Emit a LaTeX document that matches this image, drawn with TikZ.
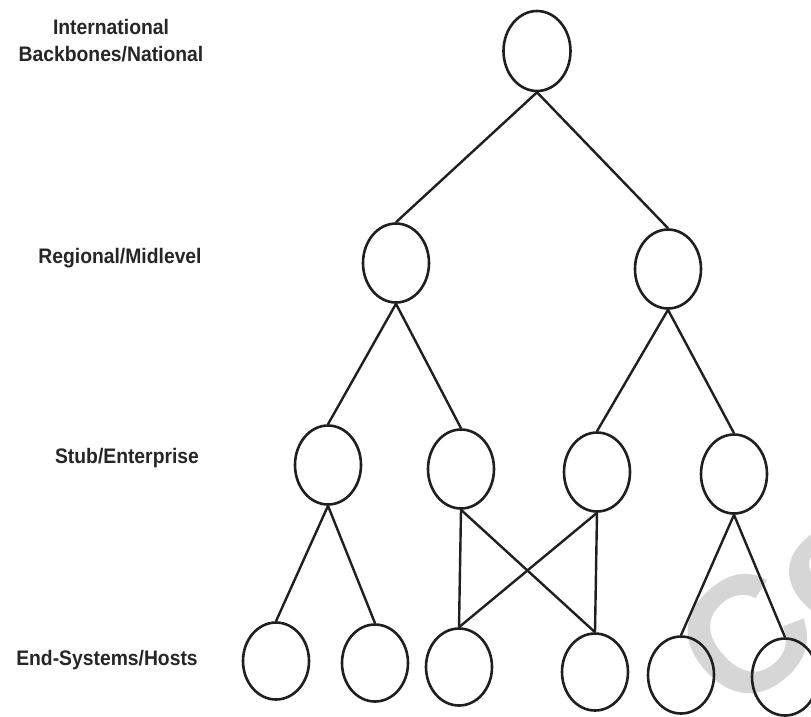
\documentclass[tikz,border=0pt]{standalone}
\usepackage{fontspec}
\setmainfont{Liberation Sans}
\newfontfamily\tierfont{Liberation Sans Bold}[FakeStretch=0.92]
\newfontfamily\stampfont{Liberation Sans Bold}
\usetikzlibrary{shapes.geometric}

\tikzset{
  router/.style={ellipse, draw=black!88, line width=2.6pt, inner sep=0pt,
                 minimum width=66pt, minimum height=79pt},
  link/.style={draw=black!88, line width=2.4pt},
  tier/.style={font=\tierfont\fontsize{21}{25}\selectfont, text=black!85,
               inner sep=0pt, align=center},
  stamp/.style={font=\stampfont\fontsize{165}{165}\selectfont, text=black!16,
                inner sep=0pt}
}

\begin{document}
\begin{tikzpicture}[x=1pt, y=-1pt]
  \useasboundingbox (0,0) rectangle (811,716);
  \clip (0,0) rectangle (811,716);
  \fill[white] (0,0) rectangle (811,716);

  % faint stamp in the lower right corner
  \node[stamp, rotate=42] (stamp) at (783,603) {Co};

  % tier labels
  \node[tier] (lbackbone) at (111,41) {International\\[2pt]Backbones/National};
  \node[tier] (lregional) at (120,258) {Regional/Midlevel};
  \node[tier] (lstub)     at (127,458) {Stub/Enterprise};
  \node[tier] (lhosts)    at (107,660) {End-Systems/Hosts};

  % backbone
  \node[router, minimum width=67pt, minimum height=80pt] (T) at (537,51) {};
  % regional networks
  \node[router] (R1) at (396,263) {};
  \node[router] (R2) at (668,269) {};
  % stub networks
  \node[router] (S1) at (328,465) {};
  \node[router] (S2) at (461,469) {};
  \node[router] (S3) at (597,472) {};
  \node[router] (S4) at (734,474) {};
  % end systems
  \node[router, minimum height=77pt] (E1) at (276,661) {};
  \node[router, minimum height=77pt] (E2) at (375,663) {};
  \node[router, minimum height=77pt] (E3) at (459,667) {};
  \node[router, minimum height=77pt] (E4) at (595,672) {};
  \node[router, minimum height=77pt] (E5) at (681,675) {};
  \node[router, minimum height=77pt] (E6) at (785,677) {};

  % hierarchy links
  \draw[link] (T.south) -- (R1.north);
  \draw[link] (T.south) -- (R2.north);
  \draw[link] (R1.south) -- (S1.north);
  \draw[link] (R1.south) -- (S2.north);
  \draw[link] (R2.south) -- (S3.north);
  \draw[link] (R2.south) -- (S4.north);
  \draw[link] (S1.south) -- (E1.north);
  \draw[link] (S1.south) -- (E2.north);
  \draw[link] (S2.south) -- (E3.north);
  \draw[link] (S2.south) -- (E4.north);
  \draw[link] (S3.south) -- (E3.north);
  \draw[link] (S3.south) -- (E4.north);
  \draw[link] (S4.south) -- (E5.north);
  \draw[link] (S4.south) -- (E6.north);
\end{tikzpicture}
\end{document}
